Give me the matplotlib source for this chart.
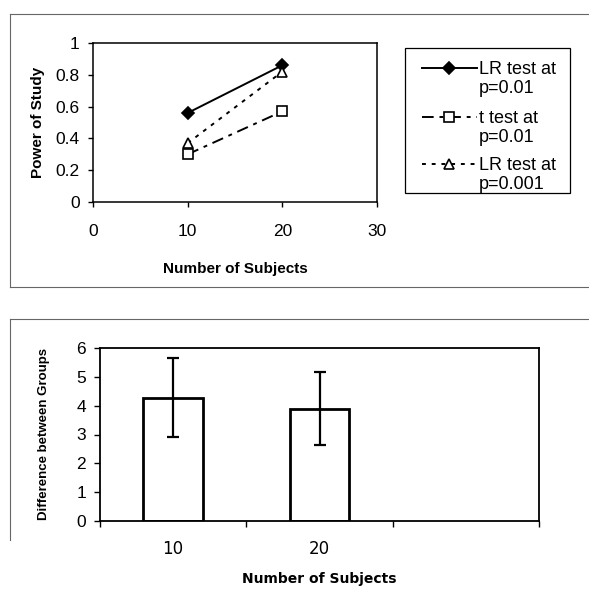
import matplotlib.pyplot as plt
from matplotlib.lines import Line2D
from matplotlib.patches import Rectangle

W, H = 589, 590

# top chart: power of study
n_subjects = [10, 20]
power_lr_01 = [0.56, 0.86]
power_t_01 = [0.30, 0.57]
power_lr_001 = [0.37, 0.82]
legend_labels = ["LR test at\np=0.01", "t test at\np=0.01", "LR test at\np=0.001"]

# bottom chart: difference between groups
bar_labels = ["10", "20", ""]
bar_values = [4.27, 3.90]
bar_errors = [1.37, 1.28]

plt.rcParams['font.family'] = ['Liberation Sans', 'DejaVu Sans']


def fx(x):
    return x / W


def fy(y):
    return 1 - y / H


fig = plt.figure(figsize=(W / 100, H / 100), dpi=100)

############################
#   top chart
############################
ax1 = fig.add_axes([fx(93), fy(202), (377 - 93) / W, (202 - 43) / H])
styles = [
    dict(ls='-', marker='D', ms=6.5, mfc='black', mec='black'),
    dict(ls=(0, (6, 3, 2, 3)), marker='s', ms=7.5, mfc='white', mec='black'),
    dict(ls=(0, (2, 3)), marker='^', ms=7.5, mfc='white', mec='black'),
]
series = [power_lr_01, power_t_01, power_lr_001]
for vals, st in zip(series, styles):
    ax1.plot(n_subjects, vals, color='black', lw=1.4, mew=1.2, **st)

ax1.set_xlim(0, 30)
ax1.set_ylim(0, 1)
ax1.set_xticks([0, 10, 20, 30])
ax1.set_yticks([0, 0.2, 0.4, 0.6, 0.8, 1])
ax1.set_yticklabels(["0", "0.2", "0.4", "0.6", "0.8", "1"])
ax1.tick_params(direction='out', length=3.5, width=1, labelsize=12.5, pad=6)
ax1.tick_params(axis='x', pad=12)
for sp in ax1.spines.values():
    sp.set_linewidth(1.1)
ax1.set_xlabel("Number of Subjects", fontsize=11, fontweight='bold', labelpad=17)
ax1.set_ylabel("Power of Study", fontsize=11, fontweight='bold', labelpad=8)

# legend box drawn by hand so the marker sits on the first text line
fig.patches.append(Rectangle((fx(405), fy(193)), (570 - 405) / W, (193 - 48) / H,
                             transform=fig.transFigure, fill=False, ec='black', lw=0.9))
rows = [68, 117, 164]
for y, st, lab in zip(rows, styles, legend_labels):
    fig.lines.append(Line2D([fx(422), fx(477)], [fy(y), fy(y)], transform=fig.transFigure,
                            color='black', lw=1.4, ls=st['ls']))
    fig.lines.append(Line2D([fx(449)], [fy(y)], transform=fig.transFigure, ls='none',
                            marker=st['marker'], ms=st['ms'], mfc=st['mfc'], mec='black', mew=1.2))
    fig.text(fx(479), fy(y - 7), lab, fontsize=13, va='top', ha='left', linespacing=1.12)

############################
#   bottom chart
############################
ax2 = fig.add_axes([fx(100), fy(521), (539 - 100) / W, (521 - 348) / H])
xpos = list(range(len(bar_values)))
ax2.bar(xpos, bar_values, width=0.41, color='white', edgecolor='black', lw=2)
ax2.errorbar(xpos, bar_values, yerr=bar_errors, fmt='none', ecolor='black',
             elinewidth=1.6, capsize=4.3, capthick=1.6)
ax2.set_xlim(-0.5, len(bar_labels) - 0.5)
ax2.set_ylim(0, 6)
ax2.set_yticks(range(0, 7))
ax2.set_xticks(range(len(bar_labels)))
ax2.set_xticklabels(bar_labels, family='DejaVu Sans', fontsize=12)
ax2.set_xticks([i - 0.5 for i in range(len(bar_labels) + 1)], minor=True)
ax2.tick_params(axis='x', which='major', length=0, pad=14)
ax2.tick_params(axis='x', which='minor', direction='out', length=4, width=1)
ax2.tick_params(axis='y', direction='out', length=4, width=1, labelsize=12.5, pad=6)
for sp in ax2.spines.values():
    sp.set_linewidth(1.3)
ax2.set_xlabel("Number of Subjects", family='DejaVu Sans', fontsize=10, fontweight='bold', labelpad=10)
ax2.set_ylabel("Difference between Groups", fontsize=9.5, fontweight='bold', labelpad=19)

# scanned page frames around each chart
fc = '#666666'
fig.lines.append(Line2D([fx(10), fx(600)], [fy(14), fy(14)], transform=fig.transFigure, color=fc, lw=0.8))
fig.lines.append(Line2D([fx(10), fx(10)], [fy(14), fy(287)], transform=fig.transFigure, color=fc, lw=0.8))
fig.lines.append(Line2D([fx(10), fx(600)], [fy(287), fy(287)], transform=fig.transFigure, color=fc, lw=0.8))
fig.lines.append(Line2D([fx(10), fx(600)], [fy(319), fy(319)], transform=fig.transFigure, color=fc, lw=0.8))
fig.lines.append(Line2D([fx(10), fx(10)], [fy(319), fy(540)], transform=fig.transFigure, color=fc, lw=0.8))

plt.savefig("out.png", dpi=100)
